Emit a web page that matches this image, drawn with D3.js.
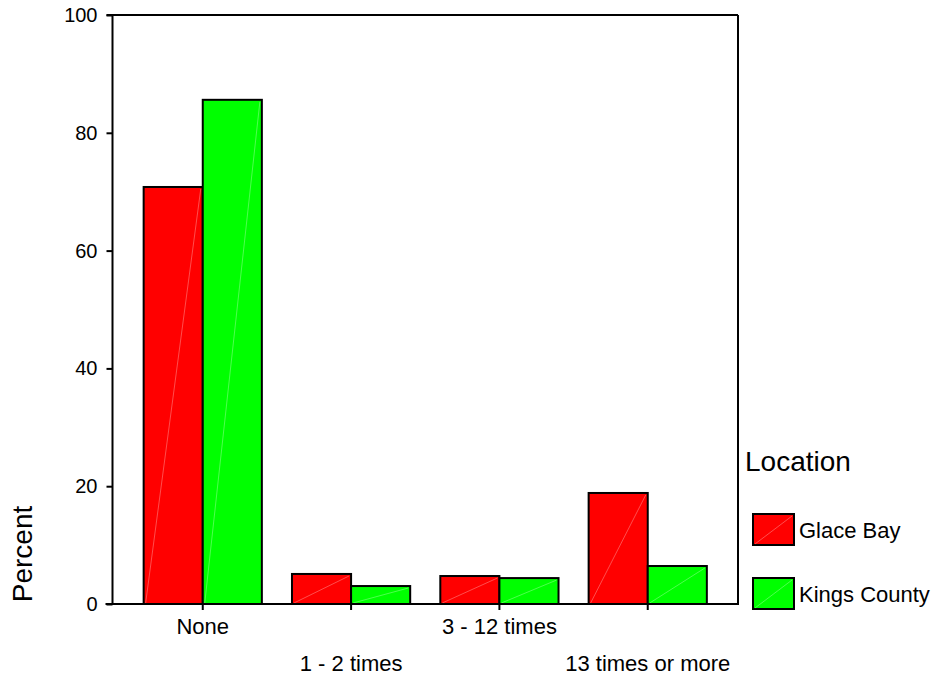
<!DOCTYPE html>
<html>
<head>
<meta charset="utf-8">
<script src="https://cdn.jsdelivr.net/npm/d3@7"></script>
<style>
  html, body { margin: 0; padding: 0; background: #fff; }
  svg { display: block; font-family: "Liberation Sans", Arial, sans-serif; }
</style>
</head>
<body>
<svg id="chart" width="934" height="679"></svg>
<script>
const categories = ["None", "1 - 2 times", "3 - 12 times", "13 times or more"];
const seriesNames = ["Glace Bay", "Kings County"];
const glaceBay = [70.8, 5.1, 4.75, 18.85];
const kingsCounty = [85.6, 3.05, 4.4, 6.45];
const yTicks = [0, 20, 40, 60, 80, 100];
const colors = ["#ff0000", "#00ff00"];

const seriesValues = [glaceBay, kingsCounty];
const data = categories.map((c, i) => ({
  category: c,
  values: seriesNames.map((s, j) => ({ series: s, value: seriesValues[j][i], color: colors[j] }))
}));

const svg = d3.select("#chart");
const plot = { left: 112.5, right: 738, top: 15, bottom: 604 };

const x = d3.scaleBand().domain(categories).range([plot.left, plot.right])
  .paddingInner(0.203).paddingOuter(0.21);
const xs = d3.scaleBand().domain(seriesNames).range([0, x.bandwidth()]).padding(0);
const y = d3.scaleLinear().domain([0, 100]).range([plot.bottom, plot.top]);

// Frame (top and right borders)
svg.append("line").attr("x1", plot.left - 6).attr("x2", plot.right)
  .attr("y1", plot.top).attr("y2", plot.top).attr("stroke", "#000").attr("stroke-width", 2);
svg.append("line").attr("x1", plot.right).attr("x2", plot.right)
  .attr("y1", plot.top).attr("y2", plot.bottom).attr("stroke", "#000").attr("stroke-width", 2);

// Bars
const groups = svg.append("g").selectAll("g").data(data).join("g")
  .attr("transform", d => `translate(${x(d.category)},0)`);
groups.selectAll("rect").data(d => d.values).join("rect")
  .attr("x", d => xs(d.series))
  .attr("y", d => y(d.value))
  .attr("width", xs.bandwidth())
  .attr("height", d => y(0) - y(d.value))
  .attr("fill", d => d.color)
  .attr("stroke", "#000")
  .attr("stroke-width", 2);
groups.selectAll("line.diag").data(d => d.values).join("line")
  .attr("class", "diag")
  .attr("x1", d => xs(d.series) + 2)
  .attr("y1", y(0) - 1)
  .attr("x2", d => xs(d.series) + xs.bandwidth() - 2)
  .attr("y2", d => y(d.value) + 2)
  .attr("stroke", "#fff").attr("stroke-opacity", 0.3).attr("stroke-width", 1);

// Y axis
const yAxis = d3.axisLeft(y).tickValues(yTicks).tickSize(6).tickPadding(9);
const gy = svg.append("g").attr("transform", `translate(${plot.left},0)`).call(yAxis);
gy.select(".domain").attr("stroke", "#000").attr("stroke-width", 2).attr("d", `M0,${plot.top}V${plot.bottom}`);
gy.selectAll(".tick line").attr("stroke", "#000").attr("stroke-width", 2);
gy.selectAll(".tick text").attr("font-size", 20).attr("fill", "#000")
  .attr("font-family", "Liberation Sans, Arial, sans-serif");

// X axis
const xAxis = d3.axisBottom(x).tickSize(6).tickPadding(0);
const gx = svg.append("g").attr("transform", `translate(0,${plot.bottom})`).call(xAxis);
gx.select(".domain").attr("stroke", "#000").attr("stroke-width", 2)
  .attr("d", `M${plot.left - 7},0H${plot.right + 1}`);
gx.selectAll(".tick line").attr("stroke", "#000").attr("stroke-width", 2);
gx.selectAll(".tick text")
  .attr("font-size", 22).attr("fill", "#000")
  .attr("font-family", "Liberation Sans, Arial, sans-serif")
  .attr("dy", null)
  .attr("y", (d, i) => i % 2 === 0 ? 30 : 67);

// Y title
svg.append("text")
  .attr("transform", "translate(32,554) rotate(-90)")
  .attr("text-anchor", "middle")
  .attr("font-size", 28)
  .text("Percent");

// Legend
svg.append("text").attr("x", 745).attr("y", 471).attr("font-size", 28).text("Location");
const legendTop = [514, 578];
const leg = svg.append("g").selectAll("g").data(seriesNames).join("g")
  .attr("transform", (d, i) => `translate(753,${legendTop[i]})`);
leg.append("rect").attr("width", 41).attr("height", 31)
  .attr("fill", (d, i) => colors[i]).attr("stroke", "#000").attr("stroke-width", 2);
leg.append("line").attr("x1", 2).attr("y1", 30).attr("x2", 39).attr("y2", 2)
  .attr("stroke", "#fff").attr("stroke-opacity", 0.3).attr("stroke-width", 1);
leg.append("text").attr("x", 46).attr("y", 24).attr("font-size", 22).text(d => d);
</script>
</body>
</html>
